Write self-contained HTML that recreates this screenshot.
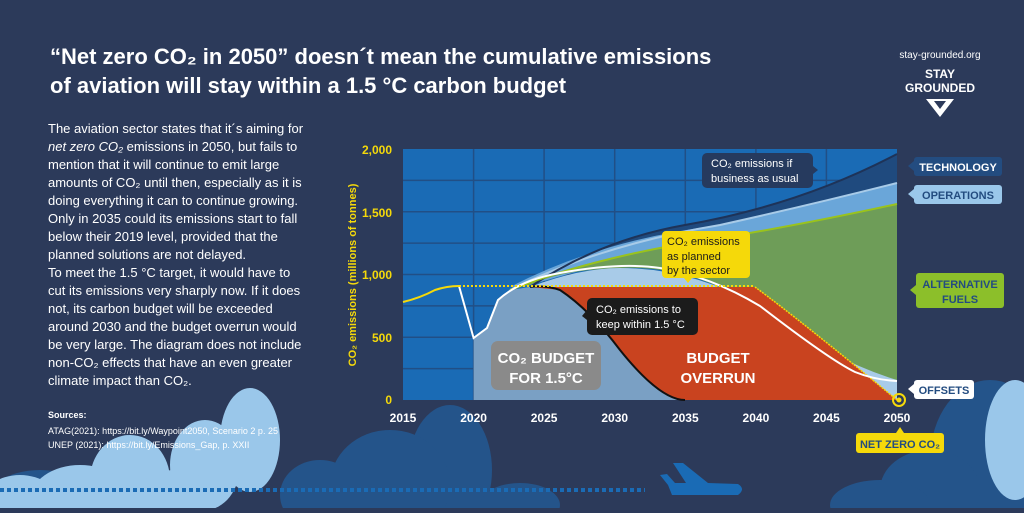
<!DOCTYPE html><html><head><meta charset="utf-8"><style>
html,body{margin:0;padding:0;width:1024px;height:513px;overflow:hidden;background:#2c3a5a;font-family:"Liberation Sans",sans-serif}
svg{display:block}
</style></head><body>
<svg width="1024" height="513" viewBox="0 0 1024 513" xmlns="http://www.w3.org/2000/svg" font-family="Liberation Sans, sans-serif">
<rect width="1024" height="513" fill="#2c3a5a"/>
<!-- clouds -->
<g fill="#24548a">
<ellipse cx="450" cy="470" rx="42" ry="65"/><ellipse cx="390" cy="485" rx="60" ry="55"/>
<ellipse cx="320" cy="495" rx="40" ry="35"/><ellipse cx="520" cy="505" rx="40" ry="22"/>
<ellipse cx="990" cy="460" rx="60" ry="80"/><ellipse cx="930" cy="490" rx="50" ry="40"/><ellipse cx="880" cy="505" rx="50" ry="25"/>
<ellipse cx="40" cy="510" rx="60" ry="40"/>
</g>
<g fill="#9ac7ea">
<ellipse cx="250" cy="440" rx="30" ry="52"/><ellipse cx="205" cy="465" rx="35" ry="45"/><ellipse cx="130" cy="480" rx="40" ry="45"/>
<ellipse cx="80" cy="500" rx="50" ry="35"/><ellipse cx="20" cy="505" rx="40" ry="30"/><ellipse cx="175" cy="500" rx="40" ry="30"/>
<ellipse cx="1015" cy="440" rx="30" ry="60"/>
</g>
<line x1="0" y1="490" x2="645" y2="490" stroke="#1a6bb5" stroke-width="4" stroke-dasharray="4,3"/>
<path d="M673 463 L683 463 L708 483 L738 484 Q746 489 738 495 L672 495 L668 485 L660 475 L667 474 L675 483 L686 483 Z" fill="#1a6bb5"/>
<rect x="0" y="508" width="1024" height="5" fill="#2c3a5a"/>
<!-- title -->
<text x="50" y="64" fill="#fff" font-size="22" font-weight="bold">“Net zero CO₂ in 2050” doesn´t mean the cumulative emissions</text>
<text x="50" y="93" fill="#fff" font-size="22" font-weight="bold">of aviation will stay within a 1.5 °C carbon budget</text>
<text x="940" y="58" fill="#fff" font-size="10" text-anchor="middle">stay-grounded.org</text>
<text x="940" y="78" fill="#fff" font-size="12" font-weight="bold" text-anchor="middle">STAY</text>
<text x="940" y="92" fill="#fff" font-size="12" font-weight="bold" text-anchor="middle">GROUNDED</text>
<path d="M926 99 L954 99 L940 117 Z" fill="#fff"/><path d="M934 101 L946 101 L940 109 Z" fill="#2c3a5a"/>
<!-- body text -->
<g fill="#fff" font-size="13">
<text x="48" y="133">The aviation sector states that it´s aiming for</text>
<text x="48" y="151"><tspan font-style="italic">net zero CO₂</tspan> emissions in 2050, but fails to</text>
<text x="48" y="169">mention that it will continue to emit large</text>
<text x="48" y="187">amounts of CO₂ until then, especially as it is</text>
<text x="48" y="205">doing everything it can to continue growing.</text>
<text x="48" y="223">Only in 2035 could its emissions start to fall</text>
<text x="48" y="241">below their 2019 level, provided that the</text>
<text x="48" y="259">planned solutions are not delayed.</text>
<text x="48" y="277">To meet the 1.5 °C target, it would have to</text>
<text x="48" y="295">cut its emissions very sharply now. If it does</text>
<text x="48" y="313">not, its carbon budget will be exceeded</text>
<text x="48" y="331">around 2030 and the budget overrun would</text>
<text x="48" y="349">be very large. The diagram does not include</text>
<text x="48" y="367">non-CO₂ effects that have an even greater</text>
<text x="48" y="385">climate impact than CO₂.</text>
</g>
<text x="48" y="418" fill="#fff" font-size="9" font-weight="bold">Sources:</text>
<text x="48" y="434" fill="#fff" font-size="9">ATAG(2021): https://bit.ly/Waypoint2050, Scenario 2 p. 25</text>
<text x="48" y="448" fill="#fff" font-size="9">UNEP (2021): https://bit.ly/Emissions_Gap, p. XXII</text>
<!-- plot -->
<rect x="403" y="149" width="494" height="251" fill="#1a6bb5"/>
<g stroke="#214f86" stroke-width="1.5">
<line x1="473.6" y1="149" x2="473.6" y2="400"/><line x1="544.1" y1="149" x2="544.1" y2="400"/><line x1="614.7" y1="149" x2="614.7" y2="400"/><line x1="685.3" y1="149" x2="685.3" y2="400"/><line x1="755.9" y1="149" x2="755.9" y2="400"/><line x1="826.4" y1="149" x2="826.4" y2="400"/>
<line x1="403" y1="180.4" x2="897" y2="180.4"/><line x1="403" y1="211.8" x2="897" y2="211.8"/><line x1="403" y1="243.1" x2="897" y2="243.1"/><line x1="403" y1="274.5" x2="897" y2="274.5"/><line x1="403" y1="305.9" x2="897" y2="305.9"/><line x1="403" y1="337.3" x2="897" y2="337.3"/><line x1="403" y1="368.6" x2="897" y2="368.6"/>
</g>
<!-- technology band -->
<path d="M530 287 Q600 240 685 225 Q800 205 897 154 L897 183 Q810 205 720 225 Q600 245 530 287 Z" fill="#1f4a7e"/>
<!-- operations band -->
<path d="M510 287 Q600 240 720 225 Q810 205 897 183 L897 204 Q800 225 720 238 Q620 258 530 285 Z" fill="#6aa6d9"/>
<!-- green -->
<path d="M520 285 Q600 255 720 238 Q800 225 897 204 L897 380 Q860 376 830 360 Q780 320 755 306 Q690 265 620 268 Q560 270 530 285 Z" fill="#6e9d58"/>
<!-- offsets light band -->
<path d="M530 287 Q580 268 620 268 Q690 268 760 306 Q830 360 897 380 L897 400 L755 287 L530 287 Z" fill="#a8cbe8"/>
<!-- budget area -->
<path d="M473.6 338 L487 328 L498 300 L510 290 L530 287 L560 287 Q590 310 620 350 Q660 400 685 400 L473.6 400 Z" fill="#7aa0c4"/>
<!-- overrun -->
<path d="M530 287 L755 287 Q800 320 897 400 L685 400 Q660 400 620 350 Q590 310 560 290 Z" fill="#c9431f"/>
<path d="M530 287 Q545 285 560 290 Q590 310 620 350 Q660 400 685 400" fill="none" stroke="#111" stroke-width="2"/>
<path d="M755 287 Q800 320 897 400" fill="none" stroke="#f5d90a" stroke-width="1.5" stroke-dasharray="2,1"/>
<!-- lines -->
<path d="M510 290 Q600 245 720 225 Q810 205 897 183" fill="none" stroke="#a8cbe8" stroke-width="2"/>
<path d="M530 287 Q600 240 685 225 Q800 205 897 154" fill="none" stroke="#1e3358" stroke-width="2"/>
<path d="M510 290 Q600 255 720 238 Q800 225 897 204" fill="none" stroke="#9ac31c" stroke-width="2"/>
<path d="M459 286 L473.6 338 L487 328 L498 300 Q520 280 560 273 Q620 262 660 268 Q710 276 760 306 Q830 360 855 372 Q875 380 897 381" fill="none" stroke="#fff" stroke-width="2"/>
<path d="M403 302 Q420 298 435 290 Q447 286 459 286" fill="none" stroke="#f5d90a" stroke-width="2"/>
<line x1="459" y1="286" x2="755" y2="286" stroke="#f5d90a" stroke-width="2" stroke-dasharray="2,2"/>
<circle cx="899" cy="400" r="6" fill="none" stroke="#f5d90a" stroke-width="2"/><circle cx="899" cy="400" r="2.5" fill="#f5d90a"/>
<!-- axis labels -->
<g fill="#f5d90a" font-size="12" font-weight="bold" text-anchor="end">
<text x="392" y="154">2,000</text><text x="392" y="217">1,500</text><text x="392" y="279">1,000</text><text x="392" y="342">500</text><text x="392" y="404">0</text>
</g>
<text transform="translate(356 275) rotate(-90)" fill="#f5d90a" font-size="11" font-weight="bold" text-anchor="middle">CO₂ emissions (millions of tonnes)</text>
<g fill="#fff" font-size="12" font-weight="bold" text-anchor="middle">
<text x="403" y="422">2015</text><text x="473.6" y="422">2020</text><text x="544.1" y="422">2025</text><text x="614.7" y="422">2030</text><text x="685.3" y="422">2035</text><text x="755.9" y="422">2040</text><text x="826.4" y="422">2045</text><text x="897" y="422">2050</text>
</g>
<!-- labels -->
<rect x="491" y="341" width="110" height="49" rx="7" fill="#8a8a8a"/>
<text x="546" y="363" fill="#fff" font-size="15" font-weight="bold" text-anchor="middle">CO₂ BUDGET</text>
<text x="546" y="383" fill="#fff" font-size="15" font-weight="bold" text-anchor="middle">FOR 1.5°C</text>
<text x="718" y="363" fill="#fff" font-size="15" font-weight="bold" text-anchor="middle">BUDGET</text>
<text x="718" y="383" fill="#fff" font-size="15" font-weight="bold" text-anchor="middle">OVERRUN</text>
<rect x="587" y="298" width="111" height="37" rx="5" fill="#1b1b1b"/><path d="M587 310 L582 316 L587 320Z" fill="#1b1b1b"/>
<text x="596" y="313" fill="#fff" font-size="11">CO₂ emissions to</text><text x="596" y="328" fill="#fff" font-size="11">keep within 1.5 °C</text>
<rect x="702" y="153" width="111" height="35" rx="5" fill="#263a5e"/><path d="M813 166 L818 170 L813 174Z" fill="#263a5e"/>
<text x="711" y="167" fill="#fff" font-size="11">CO₂ emissions if</text><text x="711" y="182" fill="#fff" font-size="11">business as usual</text>
<rect x="662" y="231" width="88" height="47" rx="4" fill="#f5d90a"/><path d="M684 278 L688 283 L692 278Z" fill="#f5d90a"/>
<text x="667" y="245" fill="#1b1b1b" font-size="11">CO₂ emissions</text><text x="667" y="260" fill="#1b1b1b" font-size="11">as planned</text><text x="667" y="274" fill="#1b1b1b" font-size="11">by the sector</text>
<!-- right tags -->
<rect x="914" y="157" width="88" height="19" rx="3" fill="#234c80"/><path d="M914 161 L908 166 L914 171Z" fill="#234c80"/>
<text x="958" y="171" fill="#fff" font-size="11" font-weight="bold" text-anchor="middle">TECHNOLOGY</text>
<rect x="914" y="185" width="88" height="19" rx="3" fill="#9ac7ea"/><path d="M914 189 L908 194 L914 199Z" fill="#9ac7ea"/>
<text x="958" y="199" fill="#234c80" font-size="11" font-weight="bold" text-anchor="middle">OPERATIONS</text>
<rect x="916" y="273" width="88" height="35" rx="3" fill="#8cbf2a"/><path d="M916 285 L910 290 L916 295Z" fill="#8cbf2a"/>
<text x="960" y="288" fill="#234c80" font-size="11" font-weight="bold" text-anchor="middle">ALTERNATIVE</text>
<text x="960" y="303" fill="#234c80" font-size="11" font-weight="bold" text-anchor="middle">FUELS</text>
<rect x="914" y="380" width="60" height="19" rx="3" fill="#fff"/><path d="M914 384 L908 389 L914 394Z" fill="#fff"/>
<text x="944" y="394" fill="#234c80" font-size="11" font-weight="bold" text-anchor="middle">OFFSETS</text>
<rect x="856" y="433" width="88" height="20" rx="3" fill="#f5d90a"/><path d="M896 433 L900 427 L904 433Z" fill="#f5d90a"/>
<text x="900" y="448" fill="#234c80" font-size="11" font-weight="bold" text-anchor="middle">NET ZERO CO₂</text>
</svg>
</body></html>
